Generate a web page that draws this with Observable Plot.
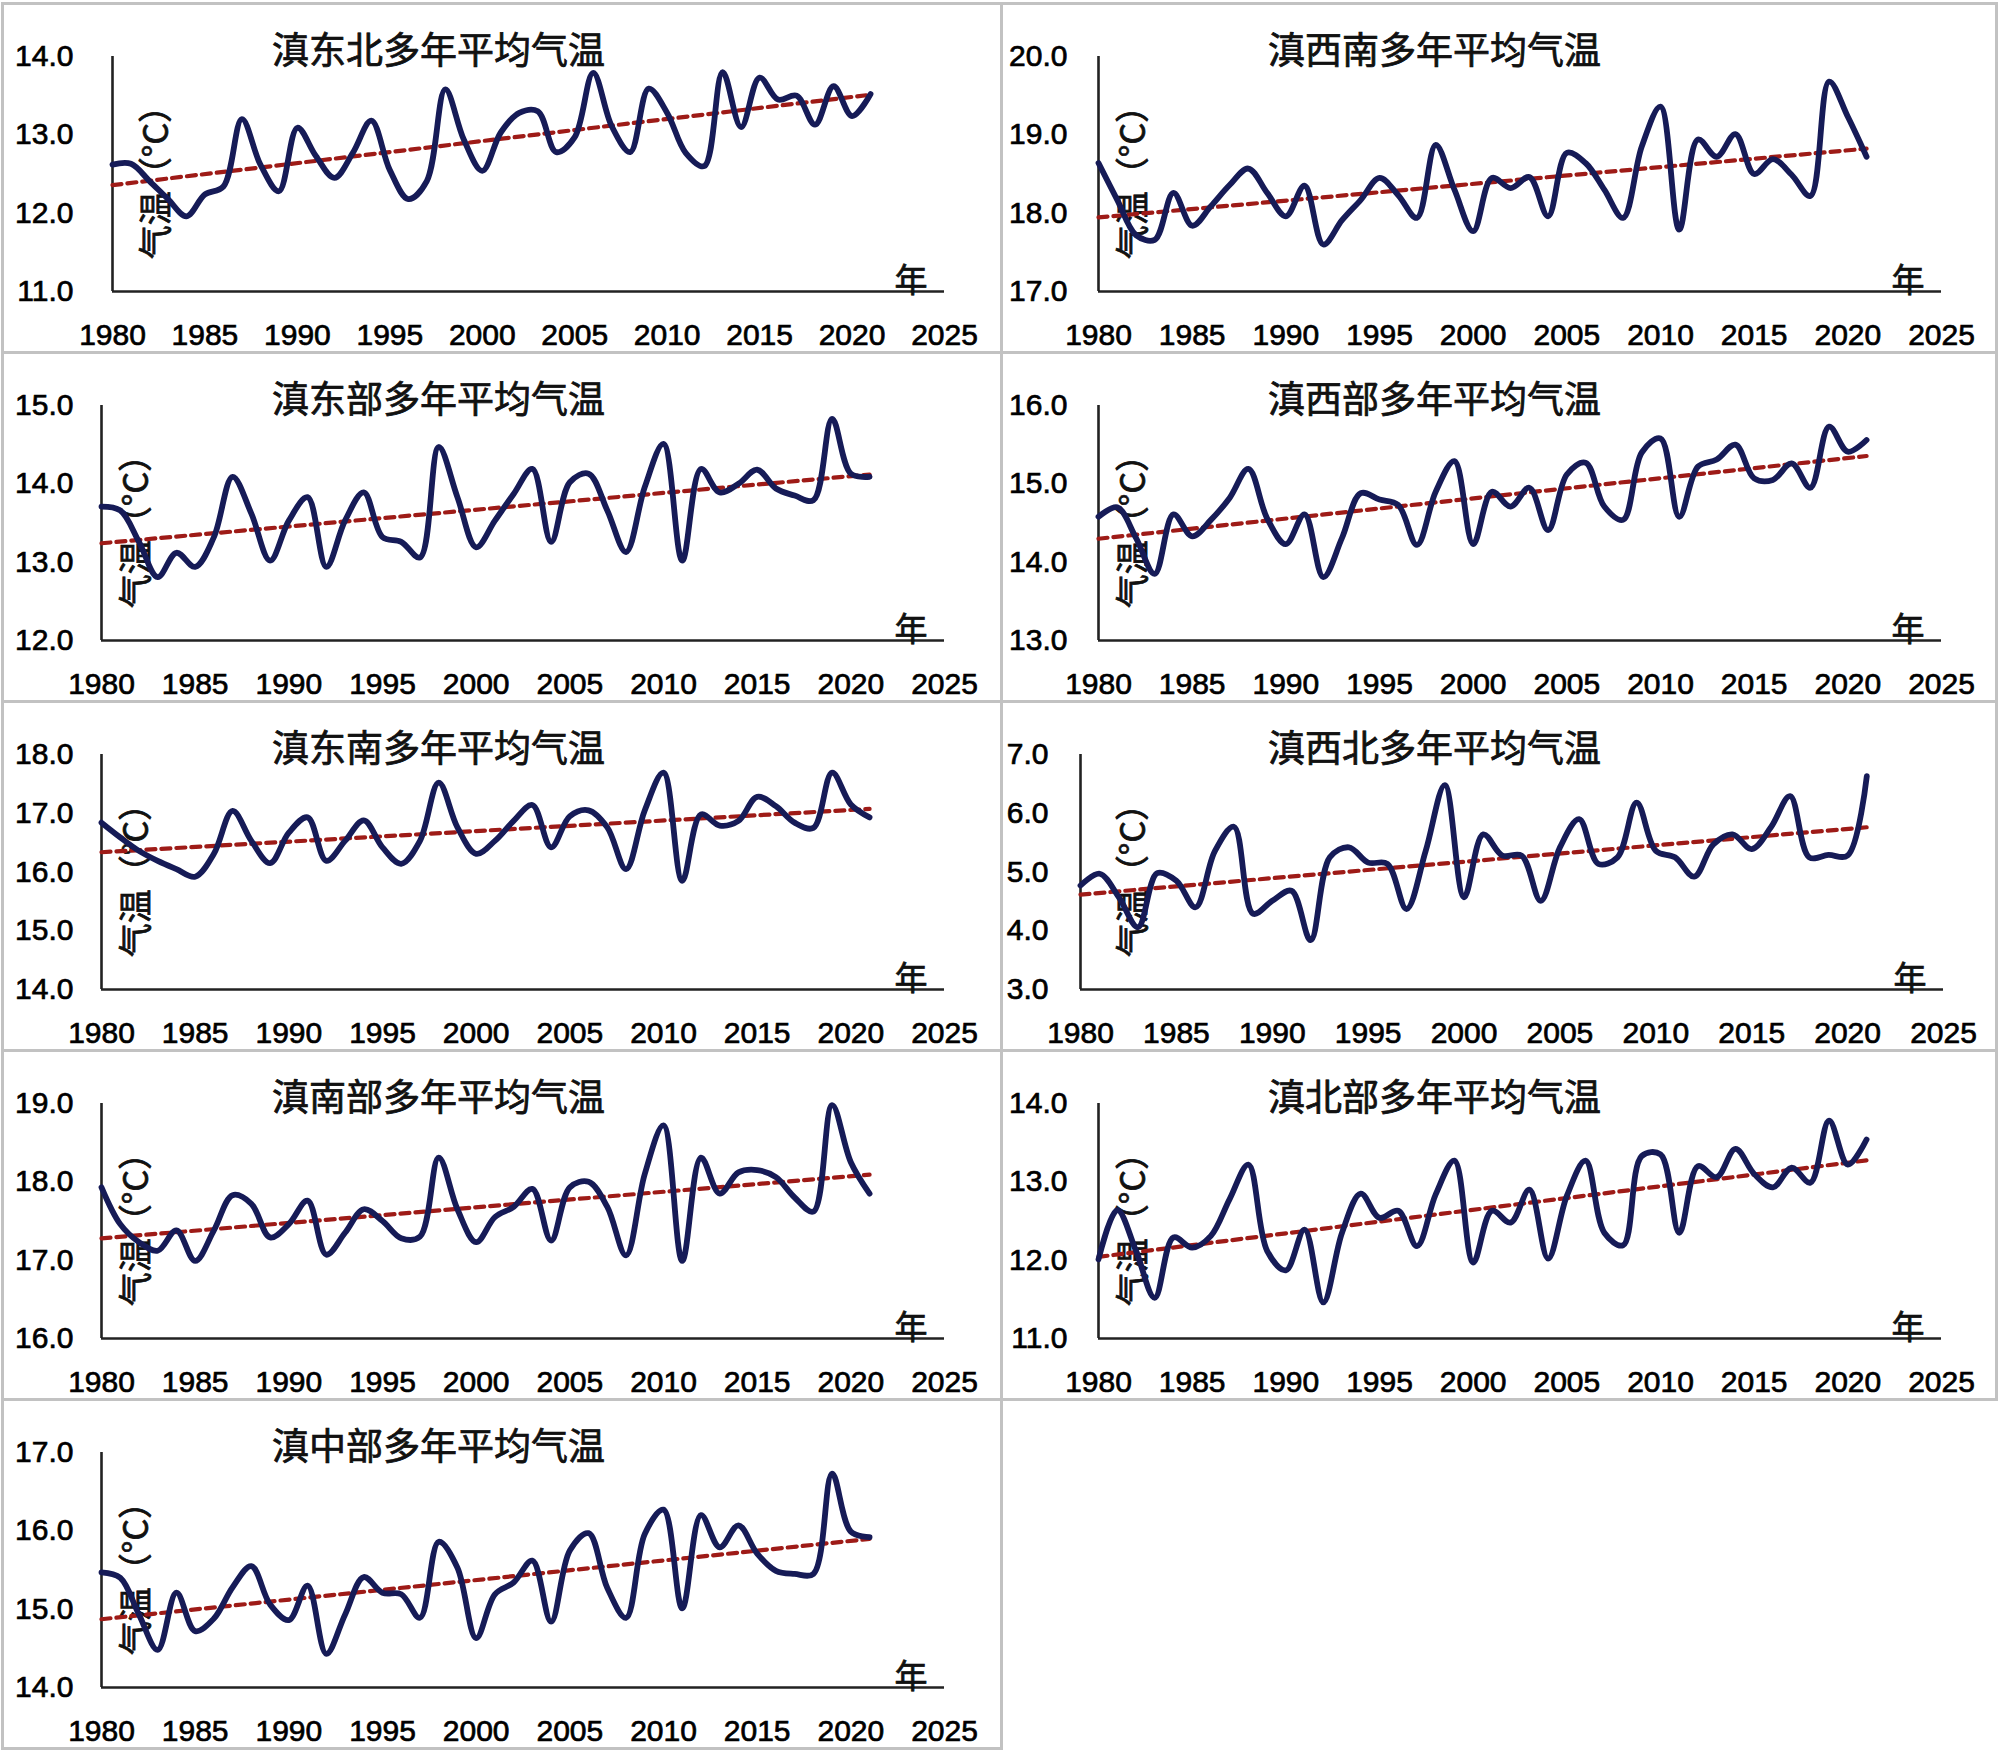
<!DOCTYPE html>
<html>
<head>
<meta charset="utf-8">
<script src="https://cdn.jsdelivr.net/npm/d3@7"></script>
<script src="https://cdn.jsdelivr.net/npm/@observablehq/plot@0.6"></script>
<style>
  html, body { margin: 0; padding: 0; background: #fff; }
  #wrap { position: relative; width: 2000px; height: 1757px; overflow: hidden; background: #fff; }
  .panel { position: absolute; }
  .panel svg text { stroke: #000; stroke-width: 0.7px; paint-order: stroke; }
  .border { position: absolute; box-sizing: border-box; border: 3px solid #c2c2c2; pointer-events: none; }
</style>
</head>
<body>
<div id="wrap"></div>
<script>
// ---------- data ----------
const years = [1980,1981,1982,1983,1984,1985,1986,1987,1988,1989,
               1990,1991,1992,1993,1994,1995,1996,1997,1998,1999,
               2000,2001,2002,2003,2004,2005,2006,2007,2008,2009,
               2010,2011,2012,2013,2014,2015,2016,2017,2018,2019,
               2020,2021];
const xTicks = [1980,1985,1990,1995,2000,2005,2010,2015,2020,2025];

const titles = ["滇东北多年平均气温","滇西南多年平均气温","滇东部多年平均气温","滇西部多年平均气温",
                "滇东南多年平均气温","滇西北多年平均气温","滇南部多年平均气温","滇北部多年平均气温",
                "滇中部多年平均气温"];

const northeast = [12.62,12.63,12.41,12.18,11.96,12.24,12.34,13.20,12.62,12.28,
                   13.09,12.73,12.45,12.77,13.18,12.55,12.18,12.41,13.58,12.94,
                   12.54,13.03,13.28,13.30,12.78,12.97,13.79,13.11,12.78,13.59,
                   13.28,12.77,12.60,13.80,13.10,13.73,13.45,13.50,13.13,13.62,
                   13.24,13.52];
const southwest = [18.64,18.17,17.72,17.66,18.26,17.84,18.09,18.36,18.57,18.26,
                   17.96,18.35,17.60,17.91,18.17,18.45,18.23,17.94,18.87,18.30,
                   17.77,18.45,18.32,18.46,17.96,18.77,18.64,18.30,17.94,18.85,
                   19.36,17.79,18.94,18.72,19.01,18.50,18.69,18.49,18.22,19.68,
                   19.23,18.72];
const east      = [13.71,13.66,13.26,12.81,13.12,12.94,13.32,14.09,13.62,13.02,
                   13.53,13.83,12.94,13.53,13.89,13.32,13.26,13.06,14.47,13.83,
                   13.19,13.53,13.87,14.19,13.26,14.02,14.13,13.66,13.13,13.96,
                   14.51,13.02,14.19,13.89,14.00,14.18,13.94,13.85,13.79,14.83,
                   14.13,14.09];
const west      = [14.58,14.70,14.31,13.85,14.61,14.33,14.54,14.82,15.19,14.56,
                   14.23,14.61,13.81,14.31,14.88,14.80,14.73,14.22,14.90,15.29,
                   14.23,14.90,14.71,14.95,14.41,15.12,15.27,14.71,14.54,15.40,
                   15.58,14.58,15.22,15.31,15.50,15.07,15.05,15.26,14.95,15.73,
                   15.41,15.56];
const southeast = [16.84,16.59,16.36,16.19,16.05,15.92,16.31,17.04,16.53,16.15,
                   16.67,16.93,16.19,16.53,16.88,16.42,16.14,16.53,17.52,16.76,
                   16.31,16.53,16.87,17.14,16.42,16.95,17.05,16.76,16.05,17.05,
                   17.69,15.85,16.98,16.79,16.87,17.28,17.12,16.84,16.75,17.69,
                   17.15,16.93];
const northwest = [4.77,4.97,4.57,4.06,4.98,4.85,4.40,5.35,5.77,4.29,
                   4.51,4.68,3.84,5.25,5.42,5.16,5.14,4.37,5.36,6.48,
                   4.57,5.64,5.28,5.28,4.51,5.42,5.90,5.14,5.25,6.18,
                   5.36,5.25,4.92,5.47,5.64,5.39,5.76,6.29,5.25,5.29,
                   5.28,6.63];
const south     = [17.93,17.46,17.23,17.12,17.38,16.99,17.38,17.83,17.72,17.29,
                   17.46,17.76,17.07,17.35,17.65,17.50,17.28,17.30,18.31,17.65,
                   17.23,17.55,17.68,17.91,17.25,17.93,18.00,17.68,17.06,18.10,
                   18.72,16.99,18.31,17.85,18.12,18.15,18.06,17.80,17.62,18.98,
                   18.25,17.85];
const north     = [12.01,12.64,12.12,11.52,12.29,12.16,12.31,12.78,13.22,12.12,
                   11.87,12.39,11.46,12.35,12.85,12.54,12.63,12.18,12.84,13.27,
                   11.97,12.63,12.48,12.90,12.02,12.82,13.27,12.35,12.19,13.33,
                   13.35,12.35,13.20,13.06,13.42,13.10,12.93,13.18,12.99,13.78,
                   13.22,13.54];
const central   = [15.47,15.40,14.93,14.48,15.21,14.72,14.88,15.28,15.55,15.06,
                   14.86,15.30,14.43,14.93,15.41,15.21,15.19,14.89,15.86,15.53,
                   14.63,15.19,15.34,15.62,14.84,15.75,15.97,15.27,14.89,15.96,
                   16.27,15.01,16.20,15.79,16.07,15.71,15.49,15.45,15.45,16.73,
                   15.99,15.92];

const seriesList = [northeast, southwest, east, west, southeast, northwest, south, north, central];
const yTicksList = [[11,12,13,14],[17,18,19,20],[12,13,14,15],[13,14,15,16],
                    [14,15,16,17,18],[3,4,5,6,7],[16,17,18,19],[11,12,13,14],[14,15,16,17]];
const yLabel = "气温（°C）";
const xUnit = "年";

// ---------- layout (positions / styles only) ----------
const layout = [
  {col:0,row:0, ml:112, mr:56, tp:39, ldx:45, tx:438},
  {col:1,row:0, ml:98,  mr:59, tp:31, ldx:36, tx:434},
  {col:0,row:1, ml:101, mr:56, tp:28, ldx:36, tx:438},
  {col:1,row:1, ml:98,  mr:59, tp:31, ldx:36, tx:434},
  {col:0,row:2, ml:101, mr:56, tp:28, ldx:36, tx:438},
  {col:1,row:2, ml:80,  mr:57, tp:32, ldx:54, tx:434},
  {col:0,row:3, ml:101, mr:56, tp:28, ldx:36, tx:438},
  {col:1,row:3, ml:98,  mr:59, tp:31, ldx:36, tx:434},
  {col:0,row:4, ml:101, mr:56, tp:28, ldx:36, tx:438}
];
const W = 1000, H = 352, MT = 54, MB = 63, ROWSTEP = 349;
const latin = "'Liberation Sans', Arial, sans-serif";
const cjk = "'Noto Sans CJK SC', 'Noto Sans', sans-serif";

const wrap = document.getElementById("wrap");

seriesList.forEach((vals, i) => {
  const L = layout[i];
  const ticks = yTicksList[i];
  const yDomain = [ticks[0], ticks[ticks.length - 1]];
  const data = years.map((yr, k) => ({year: yr, value: vals[k]}));

  const chart = Plot.plot({
    width: W,
    height: H,
    marginLeft: L.ml,
    marginRight: L.mr,
    marginTop: MT,
    marginBottom: MB,
    style: {fontFamily: latin, fontSize: "30px", color: "#000", background: "transparent", overflow: "visible"},
    x: {domain: [xTicks[0], xTicks[xTicks.length - 1]]},
    y: {domain: yDomain},
    marks: [
      Plot.text([yLabel], {frameAnchor: "left", dx: L.ldx, rotate: -90, textAnchor: "middle",
                           lineAnchor: "middle", fontSize: 34, fontFamily: cjk, fill: "#111",
                           letterSpacing: "3px"}),
      Plot.ruleX([xTicks[0]], {y1: yDomain[0], y2: yDomain[1], stroke: "#222", strokeWidth: 2.6}),
      Plot.ruleY([yDomain[0]], {x1: xTicks[0], x2: xTicks[xTicks.length - 1], stroke: "#222", strokeWidth: 2.6}),
      Plot.axisY({ticks: ticks, tickFormat: d3.format(".1f"), tickSize: 0, tickPadding: L.tp,
                  fontSize: 30, label: null}),
      Plot.axisX({ticks: xTicks, tickFormat: d3.format("d"), tickSize: 0, tickPadding: 32,
                  fontSize: 30, label: null}),
      Plot.linearRegressionY(data, {x: "year", y: "value", ci: 0, stroke: "#9e1b17",
                                    strokeWidth: 4.2, strokeDasharray: "9,6"}),
      Plot.line(data, {x: "year", y: "value", curve: "catmull-rom", stroke: "#161b57",
                       strokeWidth: 5.8, strokeLinejoin: "round", strokeLinecap: "round"}),
      Plot.text([titles[i]], {frameAnchor: "top-left", dx: L.tx - L.ml, dy: -4, textAnchor: "middle",
                              lineAnchor: "middle", fontSize: 37, fontFamily: cjk, fill: "#111"}),
      Plot.text([xUnit], {frameAnchor: "bottom-right", dx: -17, dy: 0, textAnchor: "end",
                          lineAnchor: "bottom", fontSize: 33, fontFamily: cjk, fill: "#111"})
    ]
  });

  const left = L.col === 0 ? 0 : 1000;
  const top = 2 + L.row * ROWSTEP;
  const holder = document.createElement("div");
  holder.className = "panel";
  holder.style.left = left + "px";
  holder.style.top = top + "px";
  holder.appendChild(chart);
  wrap.appendChild(holder);

  const b = document.createElement("div");
  b.className = "border";
  b.style.left = (L.col === 0 ? 1 : 1000) + "px";
  b.style.top = top + "px";
  b.style.width = (L.col === 0 ? 1002 : 998) + "px";
  b.style.height = H + "px";
  wrap.appendChild(b);
});
</script>
</body>
</html>
